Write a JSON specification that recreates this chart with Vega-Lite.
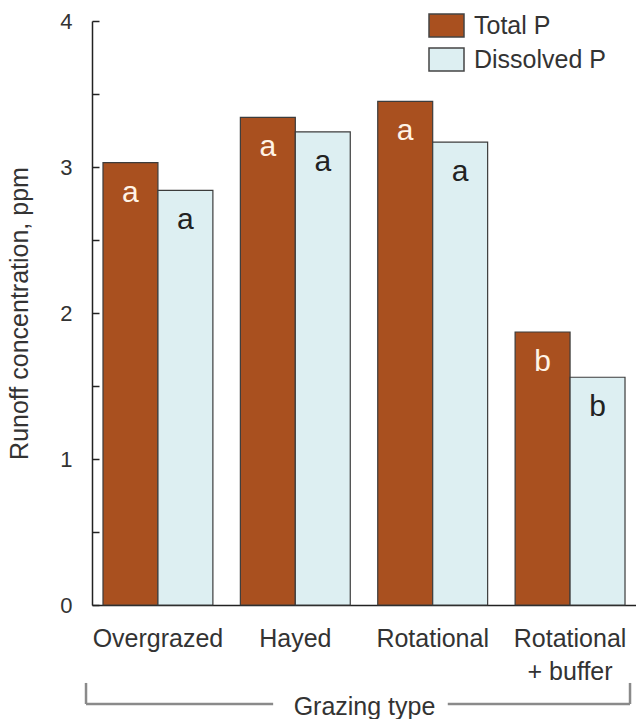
{
  "$schema": "https://vega.github.io/schema/vega-lite/v6.json",
  "width": 544,
  "height": 584,
  "autosize": {"type": "none"},
  "padding": {"left": 92, "top": 21, "right": 0, "bottom": 114},
  "background": "white",
  "config": {
    "font": "Liberation Sans",
    "view": {"stroke": null}
  },
  "data": {
    "values": [
      {"grazing": "Overgrazed", "measure": "Total P", "ppm": 3.03, "sig": "a"},
      {"grazing": "Overgrazed", "measure": "Dissolved P", "ppm": 2.84, "sig": "a"},
      {"grazing": "Hayed", "measure": "Total P", "ppm": 3.34, "sig": "a"},
      {"grazing": "Hayed", "measure": "Dissolved P", "ppm": 3.24, "sig": "a"},
      {"grazing": "Rotational", "measure": "Total P", "ppm": 3.45, "sig": "a"},
      {"grazing": "Rotational", "measure": "Dissolved P", "ppm": 3.17, "sig": "a"},
      {"grazing": "Rotational|+ buffer", "measure": "Total P", "ppm": 1.87, "sig": "b"},
      {"grazing": "Rotational|+ buffer", "measure": "Dissolved P", "ppm": 1.56, "sig": "b"}
    ]
  },
  "resolve": {"scale": {"x": "independent"}},
  "layer": [
    {
      "layer": [
        {
          "mark": {"type": "bar", "stroke": "#3c3c3c", "strokeWidth": 1.2},
          "encoding": {
            "x": {
              "field": "grazing", "type": "nominal",
              "sort": ["Overgrazed", "Hayed", "Rotational", "Rotational|+ buffer"],
              "scale": {"paddingInner": 0.2, "paddingOuter": 0.08},
              "axis": {
                "labelAngle": 0, "labelFontSize": 25, "labelColor": "#333",
                "ticks": false, "labelPadding": 21, "labelBaseline": "top",
                "labelExpr": "split(datum.label, '|')", "labelLineHeight": 33,
                "domainColor": "#222", "domainWidth": 1.5,
                "title": "Grazing type", "titleFontSize": 25, "titleFontWeight": "normal",
                "titleColor": "#333", "titlePadding": 10
              }
            },
            "xOffset": {"field": "measure", "type": "nominal", "sort": ["Total P", "Dissolved P"]},
            "y": {
              "field": "ppm", "type": "quantitative",
              "scale": {"domain": [0, 4], "nice": false},
              "axis": {
                "values": [0, 0.5, 1, 1.5, 2, 2.5, 3, 3.5, 4],
                "labelExpr": "datum.value % 1 === 0 ? format(datum.value, 'd') : ''",
                "grid": false, "tickSize": -7, "labelPadding": 27,
                "labelFontSize": 22, "labelColor": "#333",
                "domainColor": "#222", "domainWidth": 1.5, "tickColor": "#222", "tickWidth": 1.5,
                "title": "Runoff concentration, ppm", "titleFontSize": 25,
                "titleFontWeight": "normal", "titleColor": "#333", "titlePadding": 27
              }
            },
            "color": {
              "field": "measure", "type": "nominal",
              "scale": {"domain": ["Total P", "Dissolved P"], "range": ["#A9501F", "#DDEFF2"]},
              "legend": {
                "title": null, "orient": "none", "legendX": 336, "legendY": -14,
                "symbolType": "M-1,-0.657H1V0.657H-1Z", "symbolSize": 1225,
                "symbolStrokeColor": "#444", "symbolStrokeWidth": 1.5, "symbolOpacity": 1,
                "labelFontSize": 25, "labelColor": "#333", "labelOffset": 9, "rowPadding": 1
              }
            }
          }
        },
        {
          "mark": {"type": "text", "baseline": "middle", "dy": 30, "fontSize": 30},
          "encoding": {
            "x": {"field": "grazing", "type": "nominal",
                  "sort": ["Overgrazed", "Hayed", "Rotational", "Rotational|+ buffer"]},
            "xOffset": {"field": "measure", "type": "nominal", "sort": ["Total P", "Dissolved P"]},
            "y": {"field": "ppm", "type": "quantitative"},
            "text": {"field": "sig"},
            "color": {"condition": {"test": "datum.measure === 'Total P'", "value": "#FFF3E6"}, "value": "#222"}
          }
        }
      ]
    },
    {
      "data": {"values": [{}]},
      "mark": {"type": "rule", "color": "#8a8a8a", "strokeWidth": 2.5},
      "encoding": {
        "x": {"datum": -0.011, "type": "quantitative", "scale": {"domain": [0, 1]}, "axis": null},
        "x2": {"datum": 0.333},
        "y": {"datum": -0.678, "type": "quantitative"}
      }
    },
    {
      "data": {"values": [{}]},
      "mark": {"type": "rule", "color": "#8a8a8a", "strokeWidth": 2.5},
      "encoding": {
        "x": {"datum": 0.654, "type": "quantitative", "scale": {"domain": [0, 1]}, "axis": null},
        "x2": {"datum": 0.989},
        "y": {"datum": -0.678, "type": "quantitative"}
      }
    },
    {
      "data": {"values": [{}]},
      "mark": {"type": "rule", "color": "#8a8a8a", "strokeWidth": 2.5},
      "encoding": {
        "x": {"datum": -0.011, "type": "quantitative", "scale": {"domain": [0, 1]}, "axis": null},
        "y": {"datum": -0.534, "type": "quantitative"},
        "y2": {"datum": -0.678}
      }
    },
    {
      "data": {"values": [{}]},
      "mark": {"type": "rule", "color": "#8a8a8a", "strokeWidth": 2.5},
      "encoding": {
        "x": {"datum": 0.989, "type": "quantitative", "scale": {"domain": [0, 1]}, "axis": null},
        "y": {"datum": -0.534, "type": "quantitative"},
        "y2": {"datum": -0.678}
      }
    }
  ]
}
